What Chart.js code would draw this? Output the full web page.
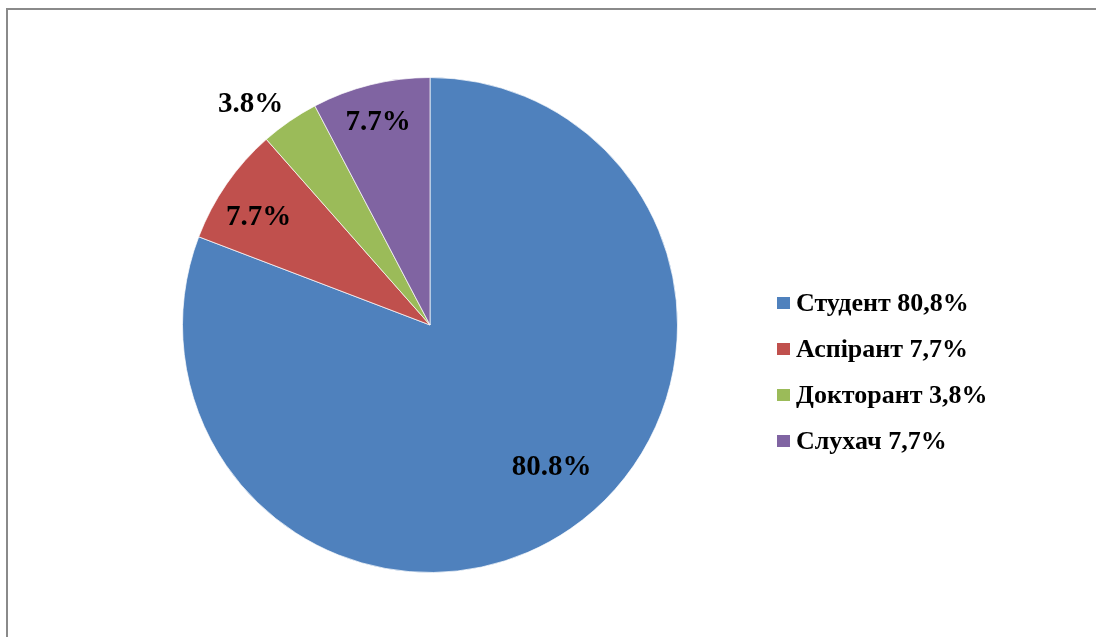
<!DOCTYPE html>
<html>
<head>
<meta charset="utf-8">
<script src="https://cdn.jsdelivr.net/npm/chart.js@4"></script>
<style>
  html, body { margin: 0; padding: 0; background: #fff; }
  #wrap { position: relative; width: 1096px; height: 637px; overflow: hidden; }
  #ramka { position: absolute; left: 6px; top: 8px; width: 1200px; height: 800px; border: 2px solid #8a8a8a; }
  canvas { position: absolute; left: 0; top: 0; }
</style>
</head>
<body>
<div id="wrap">
  <div id="ramka"></div>
  <canvas id="graficoPie" width="1096" height="637"></canvas>
</div>
<script>
// Categorias e valores (%)
const categorias = ['Студент', 'Аспірант', 'Докторант', 'Слухач'];
const valores = [80.8, 7.7, 3.8, 7.7];
const rotulosFatia = ['80.8%', '7.7%', '3.8%', '7.7%'];
const rotulosLegenda = ['Студент 80,8%', 'Аспірант 7,7%', 'Докторант 3,8%', 'Слухач 7,7%'];
const cores = ['#4F81BD', '#C0504D', '#9BBB59', '#8064A2'];

// Distância do rótulo ao centro (fração do raio) e desvio angular (graus)
const posRotulo = [0.755, 0.82, 1.152, 0.849];
const desvioRotulo = [-6, -2.4, -4.4, -0.4];

// Plugin para desenhar os rótulos das fatias
const pluginRotulos = {
    id: 'rotulos',
    afterDatasetsDraw(chart) {
        const ctx = chart.ctx;
        const meta = chart.getDatasetMeta(0);
        ctx.save();
        ctx.font = 'bold 29px "Liberation Serif", "Times New Roman", serif';
        ctx.fillStyle = '#000';
        ctx.textAlign = 'center';
        ctx.textBaseline = 'middle';
        meta.data.forEach((arco, i) => {
            const p = arco.getProps(['x', 'y', 'startAngle', 'endAngle', 'outerRadius'], true);
            const meio = (p.startAngle + p.endAngle) / 2 + desvioRotulo[i] * Math.PI / 180;
            const r = p.outerRadius * posRotulo[i];
            ctx.fillText(rotulosFatia[i], p.x + Math.cos(meio) * r, p.y + Math.sin(meio) * r + 1);
        });
        ctx.restore();
    }
};

// Plugin para a legenda à direita
const pluginLegenda = {
    id: 'legendaDireita',
    afterDraw(chart) {
        const ctx = chart.ctx;
        ctx.save();
        ctx.font = 'bold 26px "Liberation Serif", "Times New Roman", serif';
        ctx.textBaseline = 'middle';
        ctx.textAlign = 'left';
        const x0 = 777;
        const y0 = 303;
        const passo = 46;
        rotulosLegenda.forEach((txt, i) => {
            const y = y0 + i * passo;
            ctx.fillStyle = cores[i];
            ctx.fillRect(x0, y - 6, 13, 12);
            ctx.fillStyle = '#000';
            ctx.fillText(txt, x0 + 19, y + 1);
        });
        ctx.restore();
    }
};

const ctxPie = document.getElementById('graficoPie').getContext('2d');

const graficoPie = new Chart(ctxPie, {
    type: 'pie',
    data: {
        labels: categorias,
        datasets: [{
            data: valores,
            backgroundColor: cores,
            borderColor: 'rgba(255,255,255,0.7)',
            borderWidth: 1
        }]
    },
    options: {
        responsive: false,
        animation: false,
        layout: {
            padding: { left: 182, right: 418, top: 77, bottom: 64 }
        },
        plugins: {
            legend: { display: false },
            tooltip: { enabled: false }
        }
    },
    plugins: [pluginRotulos, pluginLegenda]
});
</script>
</body>
</html>
